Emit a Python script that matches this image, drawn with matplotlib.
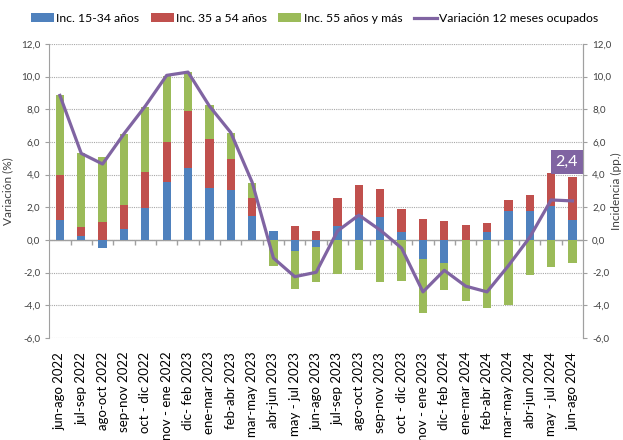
import numpy as np
import matplotlib.pyplot as plt

plt.rcParams['font.family'] = ['Lato', 'DejaVu Sans']

periodos = ['jun-ago 2022', 'jul-sep 2022', 'ago-oct 2022', 'sep-nov 2022', 'oct - dic 2022',
            'nov - ene 2022', 'dic- feb 2023', 'ene-mar 2023', 'feb-abr 2023', 'mar-may 2023',
            'abr-jun 2023', 'may - jul 2023', 'jun-ago 2023', 'jul-sep 2023', 'ago-oct 2023',
            'sep-nov 2023', 'oct - dic 2023', 'nov - ene 2023', 'dic- feb 2024', 'ene-mar 2024',
            'feb-abr 2024', 'mar-may 2024', 'abr-jun 2024', 'may - jul 2024', 'jun-ago 2024']
inc_15_34 = [1.25, 0.26, -0.50, 0.67, 1.96, 3.52, 4.39, 3.16, 3.04, 1.46, 0.55, -0.65, -0.45,
             0.87, 1.52, 1.38, 0.49, -1.17, -1.44, 0.00, 0.49, 1.76, 1.76, 2.06, 1.23]
inc_35_54 = [2.75, 0.51, 1.09, 1.46, 2.21, 2.49, 3.50, 3.03, 1.90, 1.09, 0.00, 0.85, 0.57,
             1.70, 1.84, 1.76, 1.43, 1.30, 1.15, 0.93, 0.56, 0.71, 0.97, 2.01, 2.60]
inc_55_mas = [4.85, 4.53, 3.99, 4.35, 3.99, 4.05, 2.39, 2.05, 1.64, 0.95, -1.58, -2.35, -2.10,
              -2.09, -1.82, -2.55, -2.49, -3.28, -1.60, -3.74, -4.19, -3.99, -2.15, -1.64, -1.44]
variacion = [8.85, 5.30, 4.65, 6.50, 8.20, 10.08, 10.28, 8.20, 6.58, 3.54, -1.11, -2.25, -1.98,
             0.55, 1.52, 0.60, -0.50, -3.18, -1.86, -2.83, -3.18, -1.58, 0.16, 2.45, 2.39]

c_blue, c_red, c_green, c_purple = '#4F81BD', '#C0504D', '#9BBB59', '#8064A2'

x = np.arange(len(periodos))
a = np.array(inc_15_34)
b = np.array(inc_35_54)
c = np.array(inc_55_mas)

# stack positives and negatives separately, like excel does
def stack(vals_list):
    pos = np.zeros(len(x))
    neg = np.zeros(len(x))
    out = []
    for v in vals_list:
        base = np.where(v >= 0, pos, neg)
        out.append(base)
        pos = pos + np.where(v >= 0, v, 0)
        neg = neg + np.where(v < 0, v, 0)
    return out

bases = stack([a, b, c])

fig, ax = plt.subplots(figsize=(6.23, 4.40), dpi=100)
fig.subplots_adjust(left=0.079, right=0.936, top=0.90, bottom=0.232)

w = 0.39
ax.bar(x, a, w, bottom=bases[0], color=c_blue, label='Inc. 15-34 años', zorder=3)
ax.bar(x, b, w, bottom=bases[1], color=c_red, label='Inc. 35 a 54 años', zorder=3)
ax.bar(x, c, w, bottom=bases[2], color=c_green, label='Inc. 55 años y más', zorder=3)
ax.plot(x, variacion, color=c_purple, lw=2.3, label='Variación 12 meses ocupados', zorder=4)

ax.annotate('2,4', (x[-1], variacion[-1]), xytext=(-4, 28), textcoords='offset points',
            ha='center', va='center', color='white', fontsize=11.5,
            bbox=dict(boxstyle='square,pad=0.3', fc=c_purple, ec='none'), zorder=5)

ax.set_xlim(-0.5, len(x) - 0.5)
ax.set_ylim(-6, 12)
yt = np.arange(-6, 13, 2)
ax.set_yticks(yt)
ax.set_yticklabels([f'{v:.1f}'.replace('.', ',') for v in yt], fontsize=7, color='#404040')
ax.grid(axis='y', color='#A8A8A8', ls=(0, (1, 1)), lw=0.8, zorder=0)
ax.axhline(0, color='#A0A0A0', lw=1, zorder=2)
ax.vlines(x[:-1] + 0.5, -0.3, 0, color='#A0A0A0', lw=1, zorder=2)

ax.set_xticks(x)
ax.set_xticklabels(periodos, rotation=90, fontsize=9.5, color='black')
ax.tick_params(axis='x', length=0, pad=10)
ax.tick_params(axis='y', length=3, color='#A0A0A0')
for s in ['top', 'bottom']:
    ax.spines[s].set_visible(False)
for s in ['left', 'right']:
    ax.spines[s].set_color('#A0A0A0')
ax.set_ylabel('Variación (%)', fontsize=8.5, color='#404040')
ax.yaxis.set_label_coords(-0.068, 0.5)

ax2 = ax.twinx()
ax2.set_ylim(-6, 12)
ax2.set_yticks(yt)
ax2.set_yticklabels([f'{v:.1f}'.replace('.', ',') for v in yt], fontsize=7, color='#404040')
ax2.tick_params(axis='y', length=3, color='#A0A0A0')
for s in ['top', 'bottom', 'left']:
    ax2.spines[s].set_visible(False)
ax2.spines['right'].set_color('#A0A0A0')
ax2.set_ylabel('Incidencia (pp.)', fontsize=8.5, color='#404040')
ax2.yaxis.set_label_coords(1.052, 0.5)

h, l = ax.get_legend_handles_labels()
order = [1, 2, 3, 0]
fig.legend([h[i] for i in order], [l[i] for i in order], loc='center', bbox_to_anchor=(0.505, 0.958),
           ncol=4, frameon=False, fontsize=8.8, handlelength=1.9, handleheight=0.75,
           columnspacing=0.9, handletextpad=0.2)

fig.savefig('out.png', dpi=100)
